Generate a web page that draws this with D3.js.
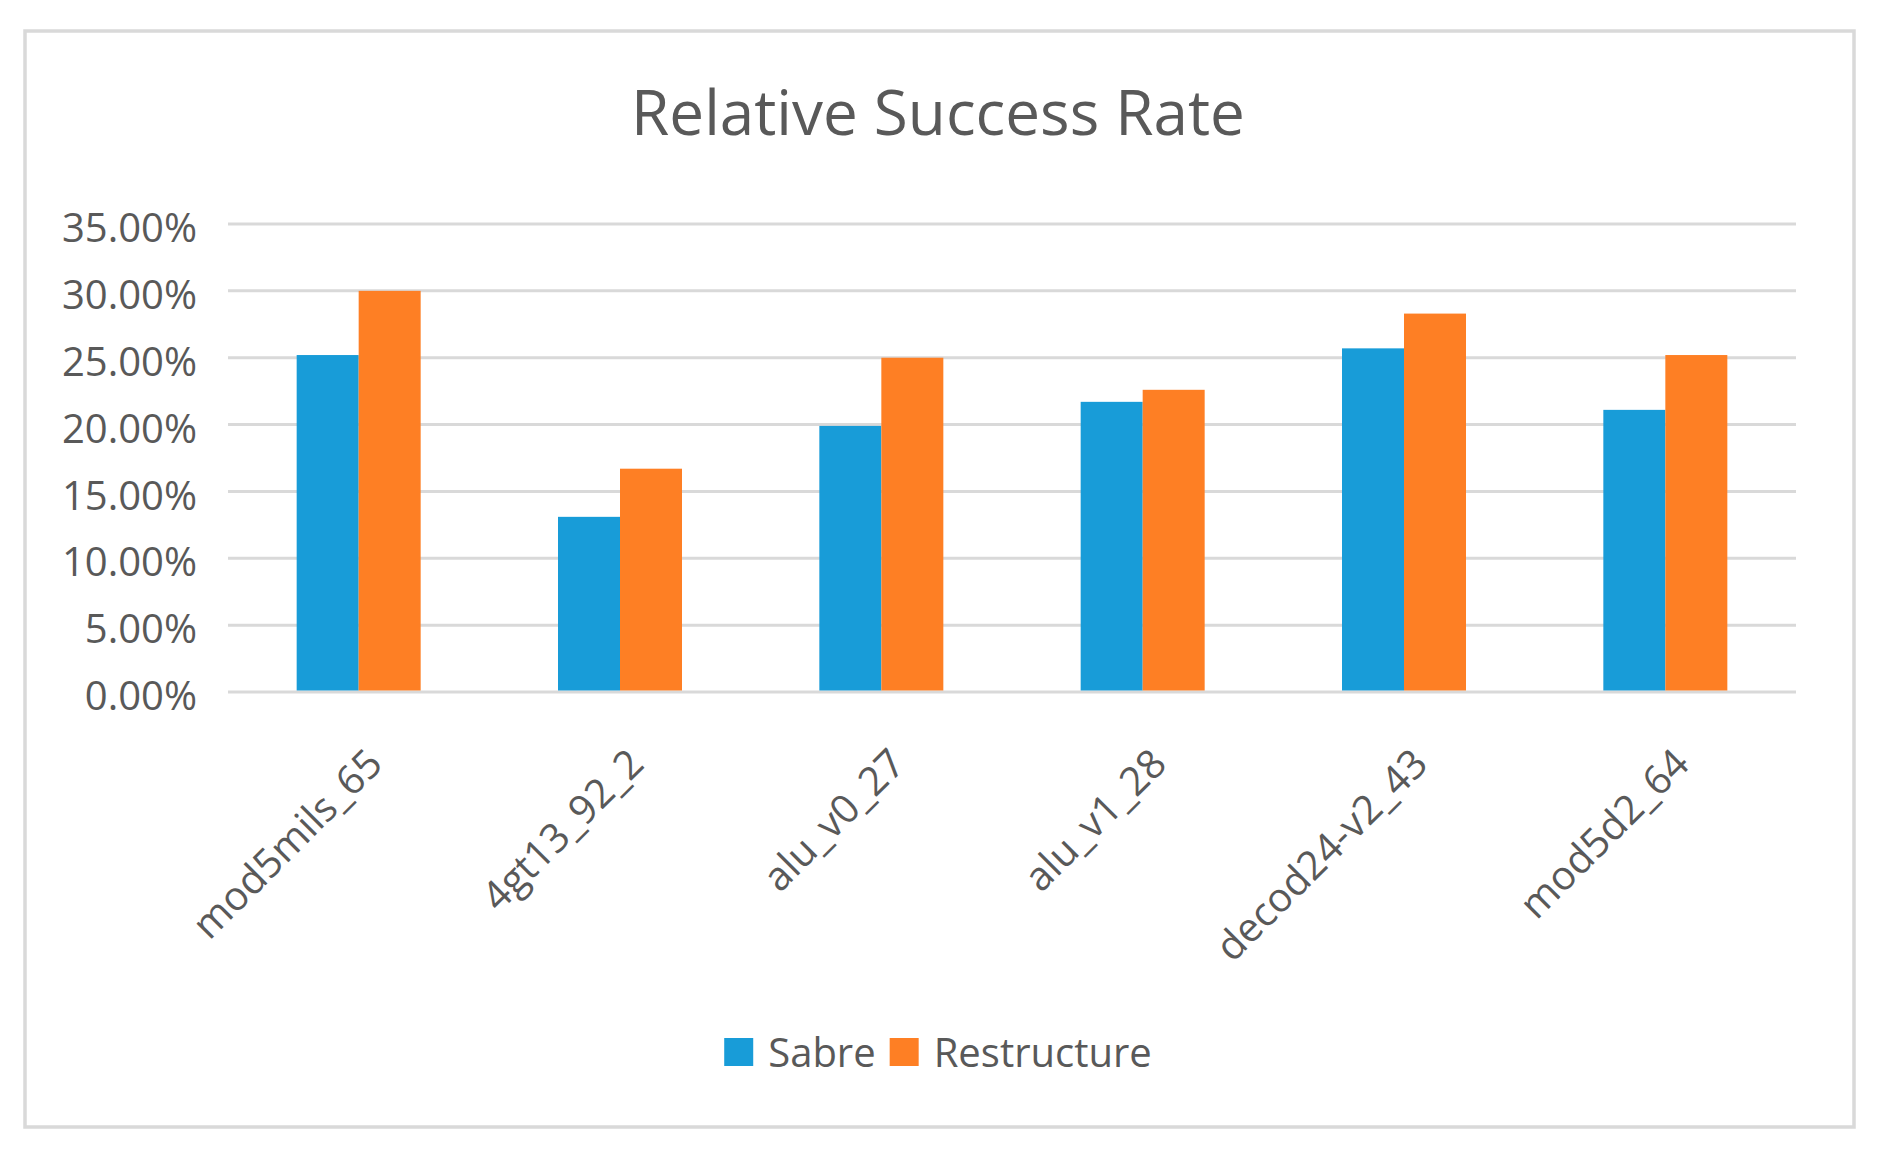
<!DOCTYPE html>
<html>
<head>
<meta charset="utf-8">
<script src="https://cdn.jsdelivr.net/npm/d3@7"></script>
<style>
  html, body { margin: 0; padding: 0; background: #ffffff; }
  svg { display: block; }
  text { font-family: "Open Sans", "Noto Sans", sans-serif; fill: #595959; }
</style>
</head>
<body>
<svg id="chart" width="1880" height="1154"></svg>
<script>
const categories = ["mod5mils_65", "4gt13_92_2", "alu_v0_27", "alu_v1_28", "decod24-v2_43", "mod5d2_64"];
const seriesNames = ["Sabre", "Restructure"];
const sabre = [0.252, 0.131, 0.199, 0.217, 0.257, 0.211];
const restructure = [0.300, 0.167, 0.250, 0.226, 0.283, 0.252];
const yTicks = [0, 0.05, 0.10, 0.15, 0.20, 0.25, 0.30, 0.35];
const colors = ["#189cd8", "#fe7f24"];
const title = "Relative Success Rate";

const svg = d3.select("#chart");
const W = 1880, H = 1154;
svg.append("rect").attr("width", W).attr("height", H).attr("fill", "#ffffff");

// chart area border
svg.append("rect")
  .attr("x", 25).attr("y", 31).attr("width", 1829).attr("height", 1096)
  .attr("fill", "none").attr("stroke", "#d9d9d9").attr("stroke-width", 3.5);

const plot = { left: 228, right: 1796, top: 224, bottom: 692 };

const y = d3.scaleLinear().domain([0, 0.35]).range([plot.bottom, plot.top]);
const p = 0.5255;
const x0 = d3.scaleBand().domain(categories).range([plot.left, plot.right])
  .paddingInner(p).paddingOuter(p / 2);
const x1 = d3.scaleBand().domain(seriesNames).range([0, x0.bandwidth()]).padding(0);

// gridlines
svg.append("g").selectAll("line").data(yTicks).join("line")
  .attr("x1", plot.left).attr("x2", plot.right)
  .attr("y1", d => y(d)).attr("y2", d => y(d))
  .attr("stroke", "#d9d9d9").attr("stroke-width", 3);

// y-axis labels
const yAxis = d3.axisLeft(y).tickValues(yTicks).tickFormat(d3.format(".2%")).tickSize(0).tickPadding(0);
const yg = svg.append("g").attr("transform", `translate(197,0)`).call(yAxis);
yg.select(".domain").remove();
yg.selectAll("text")
  .attr("font-size", 40)
  .attr("fill", "#595959")
  .attr("font-family", '"Open Sans", "Noto Sans", sans-serif')
  .attr("dy", "0.44em");

// bars
const data = categories.map((c, i) => ({ cat: c, vals: [sabre[i], restructure[i]] }));
const groups = svg.append("g").selectAll("g").data(data).join("g")
  .attr("transform", d => `translate(${x0(d.cat)},0)`);
groups.selectAll("rect").data(d => d.vals.map((v, j) => ({ name: seriesNames[j], v, j })))
  .join("rect")
  .attr("x", d => x1(d.name))
  .attr("width", x1.bandwidth())
  .attr("y", d => y(d.v))
  .attr("height", d => y(0) - y(d.v) - 1.5)
  .attr("fill", d => colors[d.j]);

// x labels rotated
svg.append("g").selectAll("text").data(categories).join("text")
  .attr("transform", d => `translate(${x0(d) + x0.bandwidth() / 2 + 26},766) rotate(-45)`)
  .attr("text-anchor", "end")
  .attr("font-size", 40)
  .text(d => d);

// title
svg.append("text")
  .attr("x", 938).attr("y", 135)
  .attr("text-anchor", "middle")
  .attr("font-size", 62)
  .text(title);

// legend
const legend = svg.append("g");
let cursor = 0;
seriesNames.forEach((name, i) => {
  const g = legend.append("g");
  g.append("rect").attr("x", cursor).attr("y", 1038).attr("width", 29).attr("height", 28).attr("fill", colors[i]);
  const t = g.append("text").attr("x", cursor + 29 + 15).attr("y", 1067).attr("font-size", 40).text(name);
  const w = t.node().getComputedTextLength();
  cursor += 29 + 15 + w + 14;
});
const total = cursor - 14;
legend.attr("transform", `translate(${938 - total / 2},0)`);
</script>
</body>
</html>
